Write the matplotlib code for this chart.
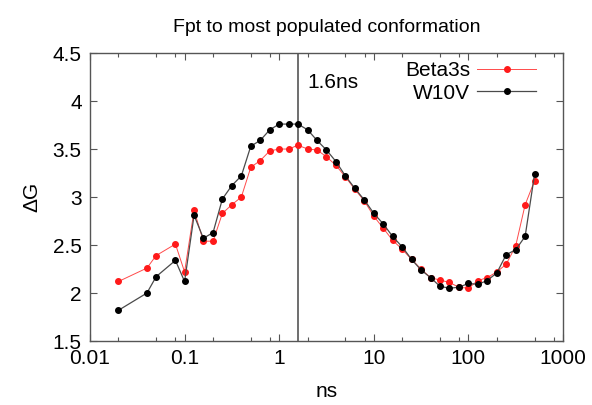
import matplotlib
matplotlib.use("Agg")
import matplotlib.pyplot as plt
from matplotlib.ticker import LogLocator, FixedLocator, NullFormatter

plt.rcParams['font.family'] = ['Liberation Sans', 'DejaVu Sans']

# data
ns = [0.02, 0.04, 0.05, 0.08, 0.1, 0.126, 0.158, 0.2, 0.251, 0.316, 0.398,
      0.501, 0.631, 0.794, 1.0, 1.26, 1.58, 2.0, 2.51, 3.16, 3.98, 5.01,
      6.31, 7.94, 10.0, 12.6, 15.8, 20.0, 25.1, 31.6, 39.8, 50.1, 63.1,
      79.4, 100, 126, 158, 200, 251, 316, 398, 501]
beta3s = [2.12, 2.26, 2.39, 2.51, 2.22, 2.86, 2.54, 2.54, 2.83, 2.92, 3.00,
          3.31, 3.38, 3.48, 3.50, 3.50, 3.54, 3.50, 3.49, 3.42, 3.33, 3.21,
          3.08, 2.96, 2.80, 2.675, 2.55, 2.455, 2.35, 2.25, 2.16, 2.135, 2.11,
          2.06, 2.05, 2.13, 2.16, 2.22, 2.30, 2.49, 2.92, 3.17]
w10v = [1.82, 2.00, 2.17, 2.34, 2.12, 2.81, 2.57, 2.63, 2.98, 3.12, 3.22,
        3.53, 3.59, 3.70, 3.76, 3.76, 3.76, 3.70, 3.59, 3.49, 3.37, 3.22,
        3.09, 2.97, 2.83, 2.72, 2.59, 2.48, 2.35, 2.24, 2.16, 2.07, 2.05,
        2.06, 2.10, 2.09, 2.13, 2.21, 2.40, 2.45, 2.59, 3.24]
fpt = 1.6
x_ticks = [0.01, 0.1, 1, 10, 100, 1000]
x_labels = ['0.01', '0.1', '1', '10', '100', '1000']
y_ticks = [1.5, 2, 2.5, 3, 3.5, 4, 4.5]
y_labels = ['1.5', '2', '2.5', '3', '3.5', '4', '4.5']

fig = plt.figure(figsize=(5.92, 4.05), dpi=100)
ax = fig.add_axes([0.152, 0.158, 0.799, 0.711])

ax.axvline(fpt, color='#555555', lw=1.2, zorder=1)
ax.plot(ns, beta3s, color='#ff4a4a', lw=0.7, marker='o', ms=4.0,
        mfc='#ff1a1a', mec='#ff1a1a', label='Beta3s', zorder=2)
ax.plot(ns, w10v, color='#4a4a4a', lw=0.9, marker='o', ms=4.0,
        mfc='black', mec='black', label='W10V', zorder=3)

ax.set_xscale('log')
ax.set_xlim(0.01, 1000)
ax.set_ylim(1.5, 4.5)
ax.xaxis.set_major_locator(FixedLocator(x_ticks))
ax.set_xticklabels(x_labels)
ax.xaxis.set_minor_locator(LogLocator(base=10, subs=(2, 5, 8)))
ax.xaxis.set_minor_formatter(NullFormatter())
ax.set_yticks(y_ticks)
ax.set_yticklabels(y_labels)

ax.tick_params(which='both', direction='in', top=True, right=True,
               color='#555555', labelsize=15)
ax.tick_params(which='major', length=5, width=0.8, pad=6)
ax.tick_params(which='minor', length=3, width=0.8)
for s in ax.spines.values():
    s.set_color('#555555')
    s.set_linewidth(1.0)

ax.text(2.0, 4.19, '1.6ns', fontsize=15, va='center', ha='left')
ax.set_xlabel('ns', fontsize=15, labelpad=10)
ax.set_ylabel('ΔG', fontsize=15, labelpad=8)
ax.set_title('Fpt to most populated conformation', fontsize=14, pad=15)

ax.legend(loc='upper right', frameon=False, markerfirst=False, fontsize=15,
          handlelength=2.8, handletextpad=0.35, labelspacing=0.15,
          borderaxespad=0.0, bbox_to_anchor=(0.96, 1.0))

fig.savefig('out.png', dpi=100)
